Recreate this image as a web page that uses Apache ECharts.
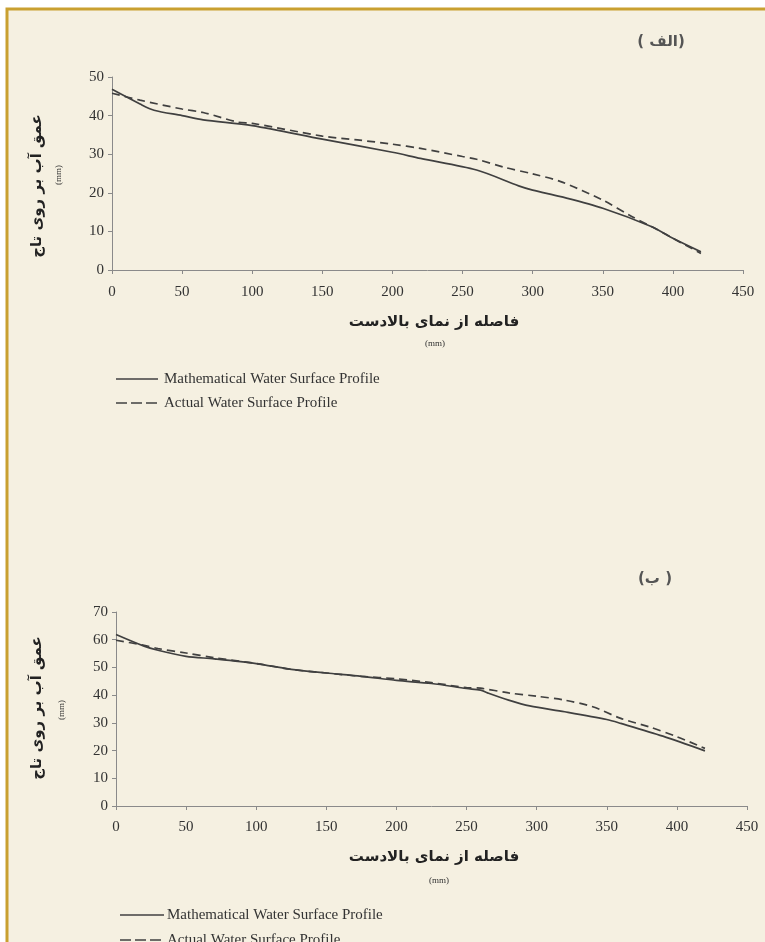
<!DOCTYPE html>
<html><head><meta charset="utf-8">
<script src="https://cdn.jsdelivr.net/npm/echarts@6/dist/echarts.min.js"></script>
<style>html,body{margin:0;padding:0;background:#fff}#c{width:765px;height:942px}</style>
</head><body><div id="c"></div>
<script>
// Chart (الف)
const xA = [0, 20, 30, 50, 65, 100, 150, 200, 220, 260, 290, 300, 320, 350, 385, 400, 420];
const mathA = [46.8, 43.0, 41.4, 40.0, 38.9, 37.4, 33.9, 30.5, 28.9, 25.9, 21.8, 20.7, 19.0, 16.0, 11.2, 8.2, 4.7];
const xA2 = [0, 20, 50, 65, 90, 100, 150, 175, 200, 220, 250, 260, 280, 300, 320, 350, 370, 385, 400, 420];
const actA = [45.8, 44.0, 41.7, 40.8, 38.3, 38.0, 34.7, 33.7, 32.6, 31.5, 29.4, 28.7, 26.6, 24.9, 22.9, 18.1, 14.0, 11.2, 8.2, 4.3];
// Chart (ب)
const xB = [0, 20, 30, 50, 70, 100, 125, 150, 175, 200, 225, 250, 260, 265, 280, 295, 320, 350, 360, 390, 420];
const mathB = [61.9, 57.7, 56.2, 54.0, 53.1, 51.4, 49.3, 48.0, 46.8, 45.3, 44.2, 42.4, 41.8, 40.8, 38.2, 36.1, 34.0, 31.2, 29.8, 25.2, 19.9];
const xB2 = [0, 20, 30, 50, 70, 100, 125, 150, 175, 200, 225, 250, 260, 280, 300, 320, 340, 360, 380, 400, 420];
const actB = [59.8, 58.0, 56.8, 55.2, 53.5, 51.4, 49.3, 48.0, 46.8, 45.9, 44.5, 42.7, 42.5, 40.8, 39.6, 38.2, 35.8, 31.6, 28.6, 25.0, 20.8];
const xTicks = [0, 50, 100, 150, 200, 250, 300, 350, 400, 450];
const seriesNames = ['Mathematical Water Surface Profile', 'Actual Water Surface Profile'];
const yTitle = 'عمق آب بر روی تاج';
const xTitle = 'فاصله از نمای بالادست';
const unit = '(mm)';
const panelA = '( الف)';
const panelB = '(ب )';

const pair = (xs, ys) => xs.map((x, i) => [x, ys[i]]);
const serif = 'Liberation Serif';
const axisCol = '#8a8a8a';
const lineCol = '#404040';

function xAxis(gi) {
  return {
    type: 'value', gridIndex: gi, min: 0, max: 450, interval: 50,
    axisLine: {show: true, lineStyle: {color: axisCol, width: 1}},
    axisTick: {show: true, length: 4, lineStyle: {color: axisCol}},
    splitLine: {show: false},
    axisLabel: {fontFamily: serif, fontSize: 15, color: '#333', margin: gi === 0 ? 15 : 14}
  };
}
function yAxis(gi, max) {
  return {
    type: 'value', gridIndex: gi, min: 0, max: max, interval: 10,
    axisLine: {show: true, lineStyle: {color: axisCol, width: 1}},
    axisTick: {show: true, length: 4, lineStyle: {color: axisCol}},
    splitLine: {show: false},
    axisLabel: {fontFamily: serif, fontSize: 15, color: '#333', margin: 8}
  };
}
function ser(name, data, gi, dashed) {
  return {
    name: name, type: 'line', xAxisIndex: gi, yAxisIndex: gi, data: data,
    showSymbol: false, symbol: 'none', smooth: 0.3,
    lineStyle: {color: lineCol, width: 1.7, type: dashed ? [8, 5] : 'solid'},
    z: dashed ? 3 : 2
  };
}

const titleFont = 'bold 15px "DejaVu Sans"';
const unitFont = '9px "Liberation Serif"';
const legFont = '15px "Liberation Serif"';
const graphic = [
  {type: 'rect', shape: {x: 0, y: 0, width: 765, height: 942}, style: {fill: '#ffffff'}, z: -10, silent: true},
  {type: 'rect', shape: {x: 7, y: 9, width: 800, height: 1000}, style: {fill: '#F5F0E1', stroke: '#C9A030', lineWidth: 3}, z: -9, silent: true},
  // panel labels
  {type: 'text', x: 661, y: 42, style: {text: panelA, font: 'bold 15px "DejaVu Sans"', fill: '#555', align: 'center', verticalAlign: 'middle'}},
  {type: 'text', x: 655, y: 579, style: {text: panelB, font: 'bold 15px "DejaVu Sans"', fill: '#555', align: 'center', verticalAlign: 'middle'}},
  // y titles
  {type: 'text', x: 37, y: 186, rotation: Math.PI / 2, style: {text: yTitle, font: titleFont, fill: '#222', align: 'center', verticalAlign: 'middle'}},
  {type: 'text', x: 59, y: 175, rotation: Math.PI / 2, style: {text: unit, font: unitFont, fill: '#333', align: 'center', verticalAlign: 'middle'}},
  {type: 'text', x: 37, y: 708, rotation: Math.PI / 2, style: {text: yTitle, font: titleFont, fill: '#222', align: 'center', verticalAlign: 'middle'}},
  {type: 'text', x: 62, y: 710, rotation: Math.PI / 2, style: {text: unit, font: unitFont, fill: '#333', align: 'center', verticalAlign: 'middle'}},
  // x titles
  {type: 'text', x: 434, y: 322, style: {text: xTitle, font: titleFont, fill: '#222', align: 'center', verticalAlign: 'middle'}},
  {type: 'text', x: 435, y: 344, style: {text: unit, font: unitFont, fill: '#333', align: 'center', verticalAlign: 'middle'}},
  {type: 'text', x: 434, y: 857, style: {text: xTitle, font: titleFont, fill: '#222', align: 'center', verticalAlign: 'middle'}},
  {type: 'text', x: 439, y: 881, style: {text: unit, font: unitFont, fill: '#333', align: 'center', verticalAlign: 'middle'}},
  // legends
  {type: 'line', shape: {x1: 116, y1: 379, x2: 158, y2: 379}, style: {stroke: lineCol, lineWidth: 1.4}},
  {type: 'text', x: 164, y: 379, style: {text: seriesNames[0], font: legFont, fill: '#333', verticalAlign: 'middle'}},
  {type: 'line', shape: {x1: 116, y1: 403, x2: 158, y2: 403}, style: {stroke: lineCol, lineWidth: 1.4, lineDash: [11, 4]}},
  {type: 'text', x: 164, y: 403, style: {text: seriesNames[1], font: legFont, fill: '#333', verticalAlign: 'middle'}},
  {type: 'line', shape: {x1: 120, y1: 915, x2: 164, y2: 915}, style: {stroke: lineCol, lineWidth: 1.4}},
  {type: 'text', x: 167, y: 915, style: {text: seriesNames[0], font: legFont, fill: '#333', verticalAlign: 'middle'}},
  {type: 'line', shape: {x1: 120, y1: 940, x2: 164, y2: 940}, style: {stroke: lineCol, lineWidth: 1.4, lineDash: [11, 4]}},
  {type: 'text', x: 167, y: 940, style: {text: seriesNames[1], font: legFont, fill: '#333', verticalAlign: 'middle'}}
];

const chart = echarts.init(document.getElementById('c'), null, {renderer: 'canvas'});
chart.setOption({
  animation: false,
  backgroundColor: 'transparent',
  grid: [
    {left: 112, width: 631, top: 77, height: 193},
    {left: 116, width: 631, top: 612, height: 194}
  ],
  xAxis: [xAxis(0), xAxis(1)],
  yAxis: [yAxis(0, 50), yAxis(1, 70)],
  series: [
    ser(seriesNames[0], pair(xA, mathA), 0, false),
    ser(seriesNames[1], pair(xA2, actA), 0, true),
    ser(seriesNames[0], pair(xB, mathB), 1, false),
    ser(seriesNames[1], pair(xB2, actB), 1, true)
  ],
  graphic: graphic
});
</script></body></html>
